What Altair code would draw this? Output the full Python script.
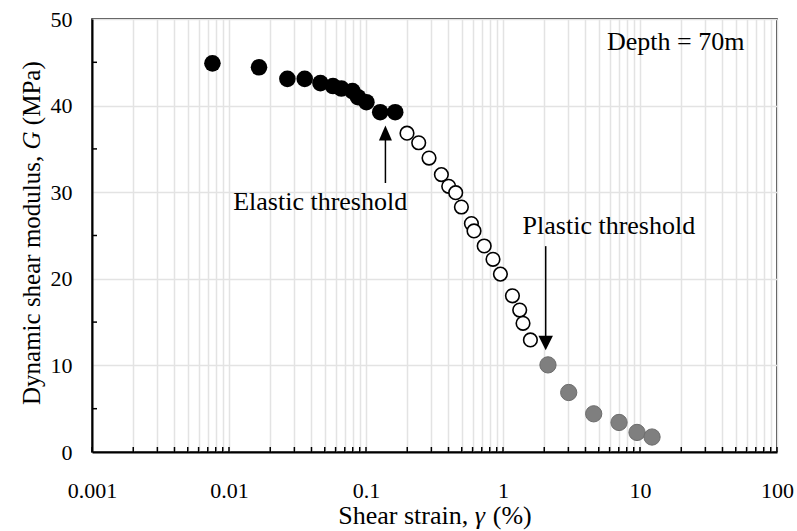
import altair as alt
import pandas as pd

# Dynamic shear modulus G (MPa) against shear strain (%), depth 70 m
elastic_strain = [0.00757, 0.01656, 0.02668, 0.0357, 0.04648, 0.05743, 0.06613,
                  0.0796, 0.0874, 0.1007, 0.127, 0.1634]
elastic_G = [44.88, 44.42, 43.09, 43.09, 42.6, 42.26, 41.97, 41.68, 40.97, 40.39,
             39.24, 39.24]

transition_strain = [0.1992, 0.2425, 0.2884, 0.355, 0.4015, 0.4516, 0.497, 0.588,
                     0.6143, 0.729, 0.8453, 0.9574, 1.172, 1.324, 1.4, 1.585]
transition_G = [36.82, 35.71, 33.94, 32.03, 30.68, 29.95, 28.29, 26.38, 25.53,
                23.79, 22.25, 20.54, 18.04, 16.39, 14.86, 12.94]

plastic_strain = [2.129, 3.017, 4.592, 7.03, 9.51, 12.24]
plastic_G = [10.06, 6.87, 4.41, 3.41, 2.26, 1.73]

# Threshold arrows: strain, shaft start, shaft end, head centre
arrow_strain = [0.1386, 2.05]
arrow_from = [31.06, 23.77]
arrow_to = [36.2, 13.2]
arrow_head = [36.84, 12.59]
arrow_label = ["Elastic threshold", "Plastic threshold"]
label_strain = [0.0463, 5.93]
label_G = [28.0, 25.2]

depth_text = "Depth = 70m"
depth_strain = 5.74
depth_G = 46.43

y_major = [0, 10, 20, 30, 40, 50]
y_minor = [5, 15, 25, 35, 45]

FONT = "Liberation Serif"
W, H = 685, 433
TICK_FS = 22
TEXT_FS = 26
YTITLE_FS = 25

# log grid positions: 1..9 within every decade
x_grid = [m * 10.0 ** e for e in range(-3, 2) for m in range(1, 10)] + [100.0]

x_scale = alt.Scale(type="log", domain=[0.001, 100], nice=False)
y_scale = alt.Scale(domain=[0, 50], nice=False, zero=True)

x_axis = alt.Axis(
    values=x_grid, grid=True, gridColor="#e3e3e3", gridWidth=1.5,
    ticks=False, tickSize=0, domain=True, domainColor="black", domainWidth=2,
    labelExpr="abs(log(datum.value)/LN10 - round(log(datum.value)/LN10)) < 1e-6 ? format(datum.value, '~g') : ''",
    labelFont=FONT, labelFontSize=TICK_FS, labelColor="black", labelPadding=28,
    labelOverlap=False, labelFlush=False, title=None,
)
y_axis = alt.Axis(
    values=y_major, grid=True, gridColor="#e3e3e3", gridWidth=1.5,
    ticks=False, tickSize=0, domain=True, domainColor="black", domainWidth=2,
    labelFont=FONT, labelFontSize=TICK_FS, labelColor="black", labelPadding=20,
    labelOverlap=False, title=None,
)


def X(field):
    return alt.X(f"{field}:Q", scale=x_scale, axis=x_axis)


def Y(field):
    return alt.Y(f"{field}:Q", scale=y_scale, axis=y_axis)


elastic_df = pd.DataFrame({"strain": elastic_strain, "G": elastic_G})
transition_df = pd.DataFrame({"strain": transition_strain, "G": transition_G})
plastic_df = pd.DataFrame({"strain": plastic_strain, "G": plastic_G})

# inward tick marks along the bottom and left edges
xtick_df = pd.DataFrame({"strain": x_grid})
ytick_df = pd.DataFrame({"G": y_minor})

xticks = alt.Chart(xtick_df).mark_rule(color="black", strokeWidth=1.5).encode(
    x=X("strain"), y=alt.value(H), y2=alt.value(H - 5)
)
yticks = alt.Chart(ytick_df).mark_rule(color="black", strokeWidth=1.5).encode(
    y=Y("G"), x=alt.value(0), x2=alt.value(5)
)

elastic = alt.Chart(elastic_df).mark_circle(size=275, color="black", opacity=1).encode(
    x=X("strain"), y=Y("G")
)
transition = alt.Chart(transition_df).mark_point(
    size=185, filled=True, fill="white", stroke="black", strokeWidth=1.6, opacity=1
).encode(x=X("strain"), y=Y("G"))
plastic = alt.Chart(plastic_df).mark_circle(
    size=265, color="#7f7f7f", stroke="#6d6d6d", strokeWidth=1, opacity=1
).encode(x=X("strain"), y=Y("G"))

arrow_df = pd.DataFrame({
    "strain": arrow_strain, "start": arrow_from, "end": arrow_to, "head": arrow_head,
    "label": arrow_label, "lx": label_strain, "ly": label_G,
    "shape": ["M0,-1L0.87,1L-0.87,1Z", "M0,1L1,-1L-1,-1Z"],
    "hsize": [225, 210],
})
shafts = alt.Chart(arrow_df).mark_rule(color="black", strokeWidth=1.5).encode(
    x=X("strain"), y=Y("start"), y2="end:Q"
)
heads = alt.Chart(arrow_df).mark_point(filled=True, color="black", opacity=1).encode(
    x=X("strain"), y=Y("head"),
    shape=alt.Shape("shape:N", scale=None, legend=None),
    size=alt.Size("hsize:Q", scale=None, legend=None),
)
labels = alt.Chart(arrow_df).mark_text(
    font=FONT, fontSize=TEXT_FS, color="black", align="center", baseline="alphabetic"
).encode(x=X("lx"), y=Y("ly"), text="label:N")

depth_df = pd.DataFrame({"strain": [depth_strain], "G": [depth_G], "t": [depth_text]})
depth = alt.Chart(depth_df).mark_text(
    font=FONT, fontSize=TEXT_FS, color="black", align="left", baseline="alphabetic"
).encode(x=X("strain"), y=Y("G"), text="t:N")

# Axis titles with italic symbols, assembled from pieces (Times metrics, em units)
one = pd.DataFrame({"k": [0]})


def piece(text, x, y, size, italic=False, angle=0):
    return alt.Chart(one).mark_text(
        text=text, font=FONT, fontSize=size, color="black",
        fontStyle="italic" if italic else "normal",
        align="left", baseline="alphabetic", angle=angle,
    ).encode(x=alt.value(x), y=alt.value(y))


# x title: "Shear strain, γ (%)"
em = TEXT_FS
xt_total = (5.0 + 0.25 + 0.44 + 0.25 + 1.499) * em
xt_start = 343 - xt_total / 2
xt_base = 505
x_title = [
    piece("Shear strain,", xt_start, xt_base, em),
    piece("γ", xt_start + 5.25 * em, xt_base, em, italic=True),
    piece("(%)", xt_start + (5.25 + 0.44 + 0.25) * em, xt_base, em),
]

# y title: "Dynamic shear modulus, G (MPa)", read bottom to top
ey = YTITLE_FS
yt_start = 386
yt_base = -52
y_title = [
    piece("Dynamic shear modulus,", yt_base, yt_start, ey, angle=270),
    piece("G", yt_base, yt_start - 10.221 * ey, ey, italic=True, angle=270),
    piece("(MPa)", yt_base, yt_start - 11.193 * ey, ey, angle=270),
]

chart = alt.layer(
    xticks, yticks, shafts, heads, transition, elastic, plastic, labels, depth,
    *x_title, *y_title,
).properties(
    width=W, height=H,
    autosize=alt.AutoSizeParams(type="none"),
    padding={"left": 92, "top": 19, "right": 20, "bottom": 79},
    background="white",
).configure_view(
    stroke="black", strokeWidth=1.5
)

chart.save("out.html", embed_options={"renderer": "svg", "actions": False})
